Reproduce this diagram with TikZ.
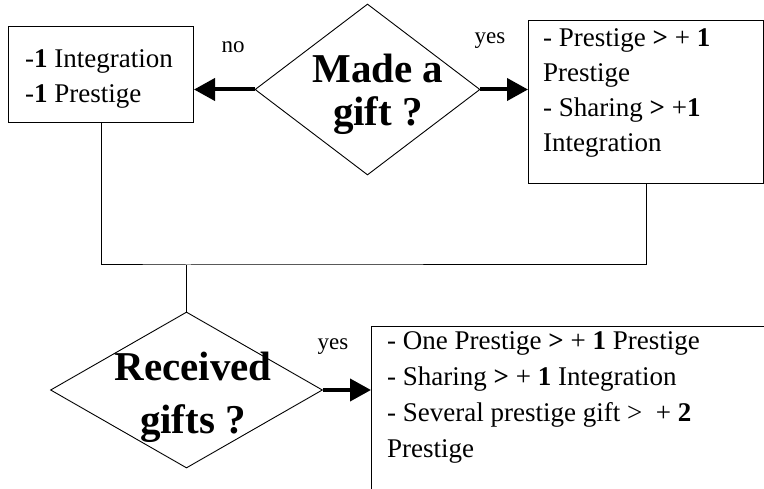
\documentclass[tikz,border=0pt]{standalone}
\usepackage{fontspec}
\setmainfont{Liberation Serif}
\usetikzlibrary{shapes.geometric,arrows.meta,positioning}

\tikzset{
	box/.style = {draw, line width = 1pt, inner sep = 0pt, anchor = north west},
	choice/.style = {diamond, draw, line width = 0.9pt, inner sep = 0pt},
	boxtext/.style = {inner sep = 0pt, align = left, font = \fontsize{27pt}{35pt}\selectfont},
	asktext/.style = {inner sep = 0pt, align = center, font = \fontsize{41pt}{43pt}\selectfont\bfseries},
	answer/.style = {inner sep = 0pt, font = \fontsize{23pt}{23pt}\selectfont},
	link/.style = {line width = 1pt},
	go/.style = {line width = 4pt, -{Triangle[length = 21pt, width = 22pt]}}
}

\begin{document}
\begin{tikzpicture}[x = 1pt, y = 1pt]
				\useasboundingbox (0, 0) rectangle (764, 488);
				\clip (0, 0) rectangle (764, 488);
				\node[box, minimum width = 185pt, minimum height = 96pt] (nogift) at (8, 462) {};
				\node[box, minimum width = 235pt, minimum height = 163pt] (gave) at (528, 468) {};
				\node[box, minimum width = 420pt, minimum height = 200pt] (recvbox) at (371, 162) {};
				\node[choice, minimum width = 225pt, minimum height = 171pt] (made) at (367.5, 398.5) {};
				\node[choice, minimum width = 272pt, minimum height = 156pt] (recv) at (186.5, 98) {};
				\node[asktext] (madetext) at (378, 393.5) {Made a\\gift ?};
				\node[asktext, font = \fontsize{41pt}{53pt}\selectfont\bfseries] (recvtext) at (193, 90.5) {Received\\gifts ?};
				\node[boxtext, below right = 23.5pt and 17pt of nogift.north west] (nogifttext) {-\textbf{1} Integration\\-\textbf{1} Prestige};
				\node[boxtext, below right = 8pt and 15pt of gave.north west] (gavetext) {- Prestige \textbf{>} + \textbf{1}\\Prestige\\- Sharing \textbf{>} +\textbf{1}\\Integration};
				\node[boxtext, font = \fontsize{27pt}{36pt}\selectfont, below right = 5.5pt and 16pt of recvbox.north west] (recvboxtext) {- One Prestige \textbf{>} + \textbf{1} Prestige\\- Sharing \textbf{>} + \textbf{1} Integration\\- Several prestige gift >\ \ + \textbf{2}\\Prestige};
				\node[answer] (no) at (233, 441) {no};
				\node[answer] (yesgave) at (490, 447) {yes};
				\node[answer] (yesrecv) at (333, 141) {yes};
				\coordinate (merge) at (186.5, 223);
				\draw[go] (made.west) -- (made.west -| nogift.east);
				\draw[go] (made.east) -- (made.east -| gave.west);
				\draw[go] (recv.east) -- (recv.east -| recvbox.west);
				\draw[link] (nogift.south) |- (merge) -| (gave.south);
				\draw[link] (merge) -- (recv.north);
			\end{tikzpicture}
\end{document}
